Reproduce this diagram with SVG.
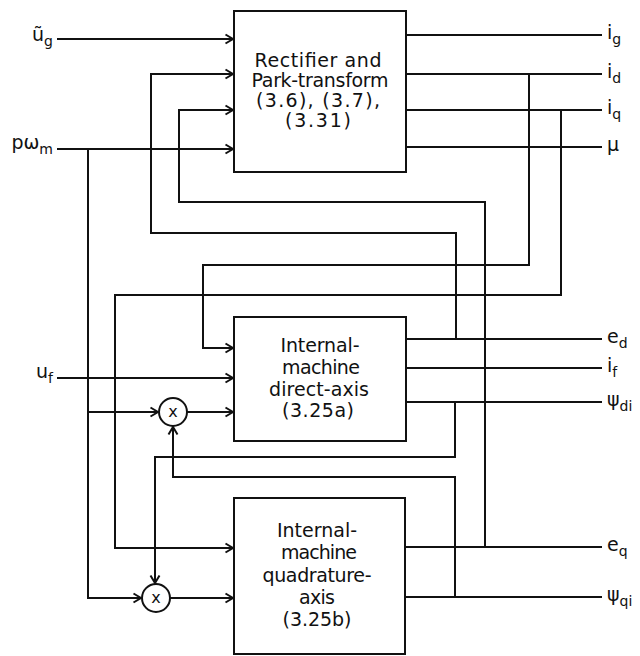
<svg xmlns="http://www.w3.org/2000/svg" width="640" height="656" viewBox="0 0 640 656">
<style>
.box{fill:#fff;stroke:#111;stroke-width:2}
.ln{fill:none;stroke:#111;stroke-width:2}
.arr{fill:none;stroke:#111;stroke-width:2;marker-end:url(#ah)}
.t{font-family:"DejaVu Sans",sans-serif;font-size:19px;fill:#111;text-anchor:middle}
.lb{font-family:"DejaVu Sans",sans-serif;font-size:19px;fill:#111}
.sb{font-size:14px}
.mx{font-family:"DejaVu Sans",sans-serif;font-size:16px;fill:#111;text-anchor:middle}
</style>
<defs>
<marker id="ah" markerUnits="userSpaceOnUse" markerWidth="12" markerHeight="12" viewBox="-9 -6 10 12" refX="0" refY="0" orient="auto">
<path d="M-7.5,-4.5 L0,0 L-7.5,4.5" fill="none" stroke="#111" stroke-width="2"/>
</marker>
</defs>
<rect width="640" height="656" fill="#fff"/>
<g id="connectors">
<path class="arr" d="M57,39 H233"/>
<path class="arr" d="M57,149 H233"/>
<path class="arr" d="M57,378 H233"/>
<path class="arr" d="M88,149 V598 H141"/>
<path class="arr" d="M88,412 H158"/>
<path class="arr" d="M187,412 H233"/>
<path class="arr" d="M170,598 H233"/>
<path class="ln" d="M406,35 H602 M406,74 H602 M406,110 H602 M406,147 H602 M406,339 H602 M406,368 H602 M406,402 H602 M405,547 H602 M405,597 H602"/>
<path class="arr" d="M456,339 V233 H151 V74 H233"/>
<path class="arr" d="M485,547 V202 H179 V110 H233"/>
<path class="arr" d="M529,74 V265 H203 V348 H233"/>
<path class="arr" d="M561,110 V295 H115 V548 H233"/>
<path class="arr" d="M455,402 V457 H155 V583"/>
<path class="arr" d="M455,597 V477 H173 V427"/>
</g>
<g id="rectifier">
<rect class="box" x="234" y="11" width="172" height="161"/>
<text class="t" x="318" y="67" textLength="127" lengthAdjust="spacing">Rectifier and</text>
<text class="t" x="320" y="87" textLength="137" lengthAdjust="spacing">Park-transform</text>
<text class="t" x="318" y="107" textLength="124" lengthAdjust="spacing">(3.6), (3.7),</text>
<text class="t" x="318" y="127" textLength="66" lengthAdjust="spacing">(3.31)</text>
</g>
<g id="direct-axis">
<rect class="box" x="234" y="317" width="172" height="124"/>
<text class="t" x="320" y="352" textLength="79" lengthAdjust="spacing">Internal-</text>
<text class="t" x="321" y="374" textLength="78" lengthAdjust="spacing">machine</text>
<text class="t" x="319" y="396" textLength="100" lengthAdjust="spacing">direct-axis</text>
<text class="t" x="318" y="417" textLength="72" lengthAdjust="spacing">(3.25a)</text>
</g>
<g id="quadrature-axis">
<rect class="box" x="234" y="498" width="171" height="156"/>
<text class="t" x="317" y="537" textLength="80" lengthAdjust="spacing">Internal-</text>
<text class="t" x="319" y="559" textLength="76" lengthAdjust="spacing">machine</text>
<text class="t" x="317" y="582" textLength="109" lengthAdjust="spacing">quadrature-</text>
<text class="t" x="317" y="604" textLength="36" lengthAdjust="spacing">axis</text>
<text class="t" x="317" y="626" textLength="69" lengthAdjust="spacing">(3.25b)</text>
</g>
<g id="multiplier-d">
<circle class="box" cx="173" cy="412" r="14"/>
<text class="mx" x="173" y="417">x</text>
</g>
<g id="multiplier-q">
<circle class="box" cx="156" cy="598" r="14"/>
<text class="mx" x="156" y="603">x</text>
</g>
<g id="inputs">
<text class="lb" x="53" y="41" text-anchor="end">ũ<tspan class="sb" dy="5">g</tspan></text>
<text class="lb" x="53" y="149" text-anchor="end">pω<tspan class="sb" dy="5">m</tspan></text>
<text class="lb" x="53" y="378" text-anchor="end">u<tspan class="sb" dy="5">f</tspan></text>
</g>
<g id="outputs">
<text class="lb" x="607" y="39">i<tspan class="sb" dy="5">g</tspan></text>
<text class="lb" x="607" y="78">i<tspan class="sb" dy="5">d</tspan></text>
<text class="lb" x="607" y="114">i<tspan class="sb" dy="5">q</tspan></text>
<text class="lb" x="607" y="151">μ</text>
<text class="lb" x="607" y="343">e<tspan class="sb" dy="5">d</tspan></text>
<text class="lb" x="607" y="372">i<tspan class="sb" dy="5">f</tspan></text>
<text class="lb" x="607" y="406">ψ<tspan class="sb" dy="5">di</tspan></text>
<text class="lb" x="607" y="551">e<tspan class="sb" dy="5">q</tspan></text>
<text class="lb" x="607" y="601">ψ<tspan class="sb" dy="5">qi</tspan></text>
</g>
</svg>
